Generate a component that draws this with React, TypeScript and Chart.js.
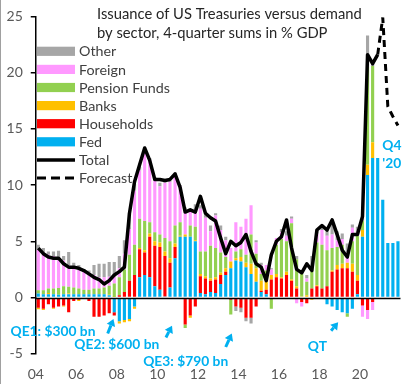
import React, { useEffect, useRef } from 'react';
import { Chart, registerables } from 'chart.js';

Chart.register(...registerables);

// ---- categories ----
const years = ['04','05','06','07','08','09','10','11','12','13','14','15','16','17','18','19','20','21'];
const quarterNames = ['Q1','Q2','Q3','Q4'];
const categories = years.flatMap((y) => quarterNames.map((q) => `20${y}${q}`));
const tickYears = ['04','06','08','10','12','14','16','18','20'];

// ---- series (4-quarter sums, % GDP) ----
const fed = [
  0.35,0.3,0.3,0.3,0.25,0.3,0.3,0.3,
  0.3,0.3,0.3,0.3,0.3,0.3,0.2,-1.3,
  -2.1,-2.0,-1.9,-0.8,1.8,2.0,1.8,1.0,
  0.7,0.1,0.9,3.5,5.4,5.4,5.4,5.0,
  0.4,0.3,0.5,0.4,1.2,2.0,2.6,3.3,
  3.2,2.7,2.1,1.4,0.5,0.3,0,0,
  0,0,0,0,0,0,0,0,
  0,-0.6,-0.8,-1.1,-1.3,-1.4,-1.0,0.3,
  5.4,10.9,12.4,12.4,8.7,4.85,4.85,5.0,
];
const households = [
  -0.9,-1.0,-0.6,-0.9,-0.8,-0.7,-1.3,-0.3,
  -0.2,-0.1,-0.3,-1.7,-1.7,-1.6,-1.4,-0.3,
  0.2,0.5,1.5,2.0,2.5,2.0,3.6,3.6,
  3.8,3.6,2.2,1.0,-0.1,-2.4,-1.6,-0.8,
  1.5,1.4,1.0,1.2,0.8,0.3,-0.2,-0.8,
  -0.9,-1.8,-1.8,-0.8,0.1,0.4,1.6,1.8,
  1.7,2.0,1.5,0.8,-0.4,-0.5,0.8,1.0,
  0.8,1.0,2.3,2.5,2.6,2.6,2.3,1.2,
  -0.7,-1.1,-0.4,0,0,0,0,0,
];
const banks = [
  -0.15,-0.1,0.1,-0.1,0,-0.1,0.05,0,
  -0.1,0,0,0,0,0,0.05,0.05,
  -0.2,-0.2,-0.2,-0.2,0.1,0.2,0.3,0.4,
  0.4,0.4,0.4,0.3,0.1,0.2,-0.2,0.1,
  0.2,0.2,0.2,0.2,0.2,0.3,0.6,0.2,
  0.4,0.4,0.9,1.2,0.9,0.8,0.4,0.3,
  0.1,0.3,0.1,0.2,0.1,0.2,-0.2,0.1,
  0,0,0.1,0.4,0.4,0.5,0.7,0.5,
  0.6,0.9,1.4,0,0,0,0,0,
];
const pensionFunds = [
  0.3,0.35,0.4,0.5,0.6,0.7,0.6,0.6,
  0.5,0.4,0.4,0.5,0.5,0.6,0.8,1.2,
  1.6,2.0,2.3,2.7,2.6,2.6,1.0,0.8,
  0.7,1.2,1.5,1.6,1.2,-0.3,1.0,1.2,
  2.0,2.2,2.9,2.6,1.8,1.0,-1.3,0.6,
  0.7,0.7,2.6,1.3,0.6,0.9,-1.0,2.6,
  3.4,2.7,5.0,2.4,2.0,1.2,1.9,3.8,
  3.9,3.2,2.0,1.6,1.7,-0.3,2.0,3.5,
  0.8,8.7,6.8,0,0,0,0,0,
];
const foreign = [
  3.6,3.3,3.0,2.9,2.7,2.3,1.9,1.9,
  1.7,1.6,1.5,1.2,1.0,0.9,0.8,0.6,
  0.8,1.4,2.3,4.8,4.3,6.4,5.5,4.6,
  4.3,4.9,5.3,4.4,3.2,2.2,1.3,1.5,
  3.8,3.0,1.3,2.9,2.0,1.5,1.2,2.6,
  2.0,3.2,2.6,1.0,0.8,0.5,0.5,0.6,
  0.6,0.5,0.4,-0.5,-0.4,0.3,0,0.8,
  1.3,1.3,1.2,0.6,0.5,0.9,1.2,0.3,
  -1.0,-0.8,-0.7,0,0,0,0,0,
];
const other = [
  0.45,0.45,0.3,0.4,0.6,0.4,1.2,0.3,
  0.4,0.2,0.2,0.9,1.2,1.2,1.3,1.3,
  1.1,1.2,1.4,0.6,0.3,0,0.2,0.3,
  0.3,0.2,0.1,0.3,0.1,0.2,0.2,0.5,
  0.3,0.3,0.5,0.2,0.4,0.3,0,-0.4,
  -0.4,-0.3,-0.5,0.2,0.2,0,0.1,0,
  0.3,0.4,0.2,0.3,0.2,0.3,1.0,0.3,
  0.4,0.6,1.2,0.8,0.5,0.8,0.3,0.5,
  0.3,2.8,0.4,0,0,0,0,0,
];
const total = [
  4.4,3.9,3.6,3.5,3.5,3.0,2.7,2.7,
  2.6,2.4,2.1,1.8,1.6,1.2,1.5,2.0,
  2.3,2.7,7.5,10.3,11.8,13.3,12.2,10.5,
  10.5,10.4,10.5,11.0,9.8,7.6,7.8,7.6,
  9.0,7.5,7.1,6.8,5.3,3.9,5.0,4.6,
  4.9,5.6,4.1,3.0,2.7,1.5,3.8,5.0,
  5.4,6.9,4.4,2.5,2.2,3.0,2.4,6.0,
  6.4,6.0,6.9,5.6,4.2,3.6,5.6,5.6,
  7.2,21.6,20.8,21.6,null,null,null,null,
];
const forecast = [
  null,null,null,null,null,null,null,null,
  null,null,null,null,null,null,null,null,
  null,null,null,null,null,null,null,null,
  null,null,null,null,null,null,null,null,
  null,null,null,null,null,null,null,null,
  null,null,null,null,null,null,null,null,
  null,null,null,null,null,null,null,null,
  null,null,null,null,null,null,null,null,
  null,null,null,21.6,24.9,17.0,16.1,15.3,
];

const yTicksStep = 5;
const titleLines = ['Issuance of US Treasuries versus demand', 'by sector, 4-quarter sums in % GDP'];

const COLORS = {
  fed: '#00B0F0',
  households: '#FF0000',
  banks: '#FFC000',
  pension: '#92D050',
  foreign: '#FF99FF',
  other: '#A6A6A6',
};

// legend entries (top to bottom)
const legendItems = [
  { label: 'Other', color: COLORS.other, kind: 'box' },
  { label: 'Foreign', color: COLORS.foreign, kind: 'box' },
  { label: 'Pension Funds', color: COLORS.pension, kind: 'box' },
  { label: 'Banks', color: COLORS.banks, kind: 'box' },
  { label: 'Households', color: COLORS.households, kind: 'box' },
  { label: 'Fed', color: COLORS.fed, kind: 'box' },
  { label: 'Total', color: '#000', kind: 'line' },
  { label: 'Forecast', color: '#000', kind: 'dash' },
];

// annotations anchored in data space: q = category index, v = value
const noteTexts = [
  { text: 'QE1: $300 bn', q: 2.9, v: -3.0 },
  { text: 'QE2: $600 bn', q: 15.5, v: -4.15 },
  { text: 'QE3: $790 bn', q: 29.1, v: -5.7 },
  { text: 'QT', q: 55.1, v: -4.4 },
];
const noteArrows = [
  { q0: 13.7, v0: -3.2, q1: 14.85, v1: -1.9 },
  { q0: 25.2, v0: -3.55, q1: 26.4, v1: -2.5 },
  { q0: 37.0, v0: -4.4, q1: 38.2, v1: -3.2 },
  { q0: 57.8, v0: -2.95, q1: 59.2, v1: -2.2 },
];
const q4Label = { lines: ['Q4', "'20"], q: 67.9, v: [13.5, 11.9] };

const FONT = 'Lato, "Noto Sans", sans-serif';

// pick a font size so that `text` measures `target` px wide
function fitSize(ctx: CanvasRenderingContext2D, text: string, weight: string, target: number) {
  ctx.font = `${weight} 20px ${FONT}`;
  const w = ctx.measureText(text).width;
  return Math.max(8, Math.min(20, (20 * target) / w));
}

const overlayPlugin = {
  id: 'overlay',
  afterDatasetsDraw(chart: any) {
    const ctx: CanvasRenderingContext2D = chart.ctx;
    const xs = chart.scales.x;
    const ys = chart.scales.y;
    const area = chart.chartArea;
    ctx.save();

    // zero line
    const y0 = Math.round(ys.getPixelForValue(0)) + 0.5;
    ctx.strokeStyle = '#000';
    ctx.lineWidth = 1.5;
    ctx.beginPath();
    ctx.moveTo(area.left, y0);
    ctx.lineTo(area.right, y0);
    ctx.stroke();

    // title
    const tSize = fitSize(ctx, titleLines[0], 'normal', 265);
    ctx.fillStyle = '#262626';
    ctx.font = `${tSize}px ${FONT}`;
    ctx.textAlign = 'left';
    ctx.textBaseline = 'middle';
    ctx.fillText(titleLines[0], 97, 14);
    ctx.fillText(titleLines[1], 97, 33);

    // legend
    const lSize = fitSize(ctx, 'Pension Funds', 'normal', 91);
    legendItems.forEach((it, k) => {
      const cy = 51.3 + k * 18.1;
      if (it.kind === 'box') {
        ctx.fillStyle = it.color;
        ctx.fillRect(37, cy - 4.6, 38, 9.2);
      } else {
        ctx.strokeStyle = it.color;
        ctx.lineWidth = it.kind === 'line' ? 3.5 : 3;
        ctx.setLineDash(it.kind === 'dash' ? [9, 5] : []);
        ctx.beginPath();
        ctx.moveTo(37, cy);
        ctx.lineTo(75, cy);
        ctx.stroke();
        ctx.setLineDash([]);
      }
      ctx.fillStyle = '#404040';
      ctx.font = `${lSize}px ${FONT}`;
      ctx.textAlign = 'left';
      ctx.textBaseline = 'middle';
      ctx.fillText(it.label, 79, cy + 0.5);
    });

    // annotations
    const aSize = fitSize(ctx, 'QE2: $600 bn', 'bold', 85);
    ctx.fillStyle = '#00B0F0';
    ctx.font = `bold ${aSize}px ${FONT}`;
    ctx.textAlign = 'center';
    ctx.textBaseline = 'middle';
    noteTexts.forEach((n) => {
      ctx.fillText(n.text, xs.getPixelForValue(n.q), ys.getPixelForValue(n.v));
    });
    ctx.textAlign = 'left';
    q4Label.lines.forEach((t, k) => {
      ctx.fillText(t, xs.getPixelForValue(q4Label.q), ys.getPixelForValue(q4Label.v[k]));
    });

    // arrows
    ctx.strokeStyle = '#00B0F0';
    ctx.lineWidth = 3;
    noteArrows.forEach((a) => {
      const x0 = xs.getPixelForValue(a.q0), y0a = ys.getPixelForValue(a.v0);
      const x1 = xs.getPixelForValue(a.q1), y1 = ys.getPixelForValue(a.v1);
      const ang = Math.atan2(y1 - y0a, x1 - x0);
      const hl = 7, hw = 4.5;
      const bx = x1 - hl * Math.cos(ang), by = y1 - hl * Math.sin(ang);
      ctx.beginPath();
      ctx.moveTo(x0, y0a);
      ctx.lineTo(bx, by);
      ctx.stroke();
      ctx.beginPath();
      ctx.moveTo(x1, y1);
      ctx.lineTo(bx + hw * Math.sin(ang), by - hw * Math.cos(ang));
      ctx.lineTo(bx - hw * Math.sin(ang), by + hw * Math.cos(ang));
      ctx.closePath();
      ctx.fill();
    });

    ctx.restore();
  },
  afterDraw(chart: any) {
    const ctx: CanvasRenderingContext2D = chart.ctx;
    ctx.save();
    ctx.strokeStyle = '#A0A0A0';
    ctx.lineWidth = 1;
    ctx.beginPath();
    ctx.moveTo(0.5, 0);
    ctx.lineTo(0.5, chart.height);
    ctx.stroke();
    ctx.restore();
  },
};

export default function App() {
  const ref = useRef<HTMLCanvasElement | null>(null);

  useEffect(() => {
    document.body.style.margin = '0';
    const canvas = ref.current;
    if (!canvas) return;
    const barDs = (label: string, data: number[], color: string) => ({
      type: 'bar' as const,
      label,
      data,
      backgroundColor: color,
      borderWidth: 0,
      stack: 'sectors',
      order: 2,
    });
    const chart = new Chart(canvas, {
      type: 'bar',
      data: {
        labels: categories,
        datasets: [
          barDs('Fed', fed, COLORS.fed),
          barDs('Households', households, COLORS.households),
          barDs('Banks', banks, COLORS.banks),
          barDs('Pension Funds', pensionFunds, COLORS.pension),
          barDs('Foreign', foreign, COLORS.foreign),
          barDs('Other', other, COLORS.other),
          {
            type: 'line',
            label: 'Total',
            data: total,
            borderColor: '#000',
            borderWidth: 3.5,
            pointRadius: 0,
            tension: 0,
            stack: 'total',
            order: 1,
            borderJoinStyle: 'round',
          } as any,
          {
            type: 'line',
            label: 'Forecast',
            data: forecast,
            borderColor: '#000',
            borderWidth: 3,
            borderDash: [7, 5],
            pointRadius: 0,
            tension: 0,
            stack: 'forecast',
            order: 1,
          } as any,
        ],
      },
      options: {
        animation: false,
        responsive: false,
        maintainAspectRatio: false,
        layout: { padding: { top: 7.25, right: 7, left: 0, bottom: 0 } },
        datasets: { bar: { barPercentage: 0.62, categoryPercentage: 1 } },
        plugins: { legend: { display: false }, tooltip: { enabled: false } },
        scales: {
          x: {
            stacked: true,
            grid: { display: false, drawTicks: false },
            border: { display: false },
            ticks: {
              autoSkip: false,
              maxRotation: 0,
              minRotation: 0,
              padding: 12,
              labelOffset: -2.5,
              color: '#595959',
              font: { family: FONT, size: 14 },
              callback: (_v: any, i: number) => {
                const c = categories[i];
                const yy = c.slice(2, 4);
                return c.endsWith('Q1') && tickYears.includes(yy) ? yy : '';
              },
            },
            afterFit: (s: any) => { s.height = 30.25; },
          },
          y: {
            stacked: true,
            min: -5,
            max: 25,
            ticks: {
              stepSize: yTicksStep,
              color: '#595959',
              font: { family: FONT, size: 14 },
              padding: 8,
            },
            grid: { drawOnChartArea: false, drawTicks: true, tickLength: 5, color: '#000', lineWidth: 1.5 },
            border: { display: true, color: '#000', width: 1.5 },
            afterFit: (s: any) => { s.width = 35.75; },
          },
        },
      } as any,
      plugins: [overlayPlugin],
    });
    return () => chart.destroy();
  }, []);

  return (
    <div style={{ width: 410, height: 384, position: 'relative', background: '#fff' }}>
      <canvas ref={ref} width={410} height={384} style={{ display: 'block' }} />
    </div>
  );
}
